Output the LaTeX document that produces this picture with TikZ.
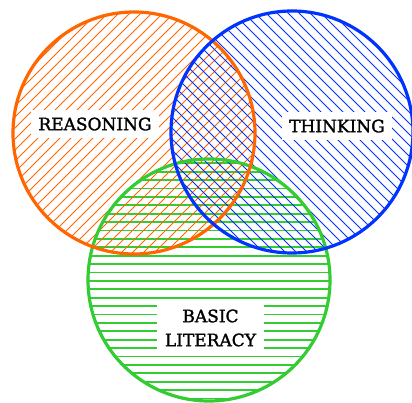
\documentclass[tikz,border=0pt]{standalone}
\usepackage{fontspec}
\setmainfont{DejaVu Serif}
\newfontfamily\lblfont[FakeBold=1.6]{DejaVu Serif}
\definecolor{orng}{RGB}{255,102,0}
\definecolor{blu}{RGB}{0,51,255}
\definecolor{grn}{RGB}{51,204,51}
\tikzset{
  rim/.style={line width=3.2pt},
  hatchline/.style={line width=0.8pt},
  lbl/.style={fill=white, inner xsep=7pt, inner ysep=8pt, font=\lblfont\fontsize{17}{24}\selectfont, align=center}
}
\begin{document}
\begin{tikzpicture}[x=1pt,y=-1pt]
\useasboundingbox (0,0) rectangle (412,403);
\fill[white] (0,0) rectangle (412,403);
% green horizontal hatching
\begin{scope}
  \clip (209,280) circle[radius=122pt];
  \foreach \k in {-12,...,18} \draw[grn, line width=1.7pt] (80,255.7+8.4*\k) -- (340,255.7+8.4*\k);
\end{scope}
% orange / hatching
\begin{scope}
  \clip (134,133) circle[radius=121pt];
  \foreach \k in {0,...,55} \draw[orng, hatchline] (11*\k,0) -- (11*\k-420,420);
\end{scope}
% blue \ hatching
\begin{scope}
  \clip (292,132) circle[radius=121pt];
  \foreach \k in {-40,...,40} \draw[blu, hatchline] (11*\k,0) -- (11*\k+420,420);
\end{scope}
% outlines
\draw[grn, rim] (209,280) circle[radius=121pt];
\draw[orng, rim] (134,133) circle[radius=121pt];
\draw[blu, rim] (292,132) circle[radius=121pt];
% labels
\node[lbl, text height=12.5pt, text depth=0pt] (reasoning) at (95,124) {REASONING};
\node[lbl, text height=12.5pt, text depth=0pt] (thinking) at (337,126) {THINKING};
\node[lbl, inner xsep=8pt, inner ysep=6pt] (literacy) at (210.5,328) {BASIC\\LITERACY};
\end{tikzpicture}
\end{document}
